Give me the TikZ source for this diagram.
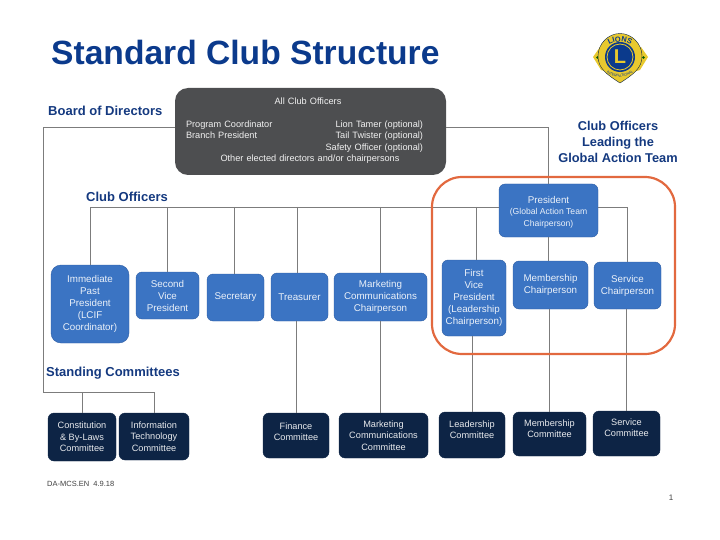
\documentclass[tikz,border=0pt]{standalone}
\usepackage{fontspec}
\setmainfont{Liberation Sans}
\usepackage{tikz}
\usetikzlibrary{decorations.text}
\definecolor{lionsblue}{HTML}{0B3A8C}
\definecolor{labelblue}{HTML}{14397F}
\definecolor{officerblue}{HTML}{3B74C3}
\definecolor{officeredge}{HTML}{2C5CA3}
\definecolor{committeenavy}{HTML}{0D2445}
\definecolor{boardgray}{HTML}{4D4E50}
\definecolor{teamorange}{HTML}{E2693F}
\definecolor{railgray}{HTML}{7C7C7C}
\definecolor{logoyellow}{HTML}{E8C92E}
\newcommand{\subline}{\fontsize{8.6}{10.5}\selectfont}
\tikzset{
  boxsize/.style 2 args={minimum width=#1pt, minimum height=#2pt},
  officerbox/.style={rectangle, rounded corners=6pt, inner sep=0pt, align=center, draw=officeredge, fill=officerblue, text=white!90!officerblue, font=\fontsize{9.8}{12}\selectfont},
  committeebox/.style={rectangle, rounded corners=6pt, inner sep=0pt, align=center, draw=committeenavy, fill=committeenavy, text=white!90!committeenavy, font=\fontsize{9.2}{11.3}\selectfont},
  grouplabel/.style={anchor=base west, inner sep=0pt, text=labelblue, font=\fontsize{13}{16}\selectfont\bfseries},
  rail/.style={railgray, line width=0.8pt}
}
\begin{document}
\begin{tikzpicture}[x=1pt, y=-1pt]
    \useasboundingbox (0,0) rectangle (720,540);

    % 1. Titulo y etiquetas
    \node[anchor=base west, inner sep=0pt, text=lionsblue, font=\fontsize{33.6}{36}\selectfont\bfseries] (title) at (51,65) {Standard Club Structure};
    \node[grouplabel] (boardlabel) at (48,116) {Board of Directors};
    \node[grouplabel] (officerlabel) at (86,202) {Club Officers};
    \node[grouplabel] (standinglabel) at (46,376) {Standing Committees};
    \node[inner sep=0pt, align=center, text=labelblue, font=\fontsize{12.8}{16}\selectfont\bfseries] (teamlabel) at (618,142) {Club Officers\\Leading the\\Global Action Team};

    % 2. Recuadro gris
    \node[rectangle, rounded corners=13pt, inner sep=0pt, boxsize={271}{87}, fill=boardgray] (board) at (310.5,131.5) {};
    \node[inner sep=0pt, text width=237pt, align=center, text=white!92!boardgray, font=\fontsize{9.2}{11.3}\selectfont] (boardtext) at (304.5,130.7) {\hspace*{7pt}All Club Officers\\[11.3pt]
        Program Coordinator\hfill Lion Tamer (optional)\\
        Branch President\hfill Tail Twister (optional)\\
        \mbox{}\hfill Safety Officer (optional)\\
        \hspace*{11pt}Other elected directors and/or chairpersons};

    % 3. Club Officers
    \node[officerbox, boxsize={78}{78}, rounded corners=10pt] (imm) at (90,304) {Immediate\\Past\\President\\(LCIF\\Coordinator)};
    \node[officerbox, boxsize={63}{47}] (second) at (167.5,295.5) {Second\\Vice\\President};
    \node[officerbox, boxsize={57}{47}] (secretary) at (235.5,297.5) {Secretary};
    \node[officerbox, boxsize={57}{48}] (treasurer) at (299.5,297) {Treasurer};
    \node[officerbox, boxsize={93}{48}] (marketing) at (380.5,297) {Marketing\\Communications\\Chairperson};
    \node[officerbox, boxsize={99}{53}] (president) at (548.5,210.5) {\rule{0pt}{10.5pt}President\\[-1pt]
        \subline (Global Action Team\\[-0.5pt]\subline Chairperson)};
    \node[officerbox, boxsize={64}{76}] (first) at (474,298) {First\\Vice\\President\\(Leadership\\Chairperson)};
    \node[officerbox, boxsize={75}{48}] (membership) at (550.5,285) {Membership\\Chairperson};
    \node[officerbox, boxsize={67}{47}] (service) at (627.5,285.5) {Service\\Chairperson};

    % 4. Committees
    \node[committeebox, boxsize={68}{48}] (constitution) at (82,437) {Constitution\\\&~By-Laws\\Committee};
    \node[committeebox, boxsize={70}{47}] (information) at (154,436.5) {Information\\Technology\\Committee};
    \node[committeebox, boxsize={66}{45}] (finance) at (296,435.5) {Finance\\Committee\\[-3.5pt]~};
    \node[committeebox, boxsize={89}{45}] (mktcommittee) at (383.5,435.5) {Marketing\\Communications\\Committee};
    \node[committeebox, boxsize={66}{46}] (leadership) at (472,435) {Leadership\\Committee\\~};
    \node[committeebox, boxsize={73}{44}] (memcommittee) at (549.5,434) {Membership\\Committee\\~};
    \node[committeebox, boxsize={67}{45}] (svccommittee) at (626.5,433.5) {Service\\Committee\\~};

    % 5. Conexiones
    \coordinate (boardrail) at (43,127);
    \coordinate (officerrail) at (90,207);
    \coordinate (standingrail) at (43,392);

    % Board of Directors hacia Standing Committees
    \draw[rail] (board.west |- boardrail) -- (boardrail) -- (standingrail) -- (standingrail -| information.north) -- (information.north);
    \draw[rail] (standingrail -| constitution.north) -- (constitution.north);
    \draw[rail] (board.east |- boardrail) -| (president.north);

    % Barra de Club Officers
    \draw[rail] (imm.north) -- (imm.north |- officerrail) -- (president.west |- officerrail);
    \draw[rail] (president.east |- officerrail) -| (service.north);
    \draw[rail] (officerrail -| second.north) -- (second.north);
    \coordinate (secretarytop) at ([xshift=-1.5pt]secretary.north);
    \draw[rail] (officerrail -| secretarytop) -- (secretarytop);
    \coordinate (treasurertop) at ([xshift=-2.5pt]treasurer.north);
    \draw[rail] (officerrail -| treasurertop) -- (treasurertop);
    \draw[rail] (officerrail -| marketing.north) -- (marketing.north);
    \coordinate (firsttop) at ([xshift=2pt]first.north);
    \draw[rail] (officerrail -| firsttop) -- (firsttop);
    \draw[rail] (president.south) -- (president.south |- membership.north);

    % Officers hacia sus Committees
    \draw[rail] (finance.north) -- (finance.north |- treasurer.south);
    \draw[rail] (marketing.south) -- (marketing.south |- mktcommittee.north);
    \draw[rail] (leadership.north) -- (leadership.north |- first.south);
    \draw[rail] (memcommittee.north) -- (memcommittee.north |- membership.south);
    \draw[rail] (svccommittee.north) -- (svccommittee.north |- service.south);

    % 6. Contorno naranja
    \draw[teamorange, line width=2.2pt, rounded corners=30pt] (432,177) rectangle (675,354);

    % 7. Logo
    \fill[logoyellow] (593,57) -- (600,47) -- (608,50) -- (608,72) -- (601,70) -- cycle;
    \fill[logoyellow] (648,57) -- (641,47) -- (633,50) -- (633,72) -- (640,70) -- cycle;
    \fill[green!35!black] (597.5,57.5) circle (1.4);
    \fill[green!35!black] (643.5,57.5) circle (1.4);
    \fill[logoyellow, draw=committeenavy, line width=0.4pt] (620,33.5) .. controls (632,33.5) and (642,44) .. (642,56) .. controls (642,68) and (634,74) .. (620,83) .. controls (606,74) and (598,68) .. (598,56) .. controls (598,44) and (608,33.5) .. cycle;
    \fill[lionsblue] (620,57) circle (15);
    \draw[logoyellow, line width=0.8pt] (620,57) circle (13);
    \node[inner sep=0pt, text=logoyellow, font=\fontsize{20}{20}\selectfont\bfseries] (logoletter) at (620,57) {L};
    \path[decorate, decoration={text along path, text align={center}, text color=lionsblue, text={|\fontsize{7.5}{8}\selectfont\bfseries|LIONS}}] (603,52) .. controls (608,38.5) and (632,38.5) .. (637,52);
    \path[decorate, decoration={text along path, text align={center}, text color=lionsblue, text={|\fontsize{3.6}{4}\selectfont|INTERNATIONAL}}] (605,71) .. controls (612,79) and (628,79) .. (635,71);

    % 8. Pie de pagina
    \node[anchor=base west, inner sep=0pt, text=black!75, font=\fontsize{7.5}{8}\selectfont] (code) at (47,486.5) {DA-MCS.EN\ \ 4.9.18};
    \node[anchor=base, inner sep=0pt, text=black!75, font=\fontsize{8}{8}\selectfont] (pagenum) at (671,500) {1};
\end{tikzpicture}
\end{document}
